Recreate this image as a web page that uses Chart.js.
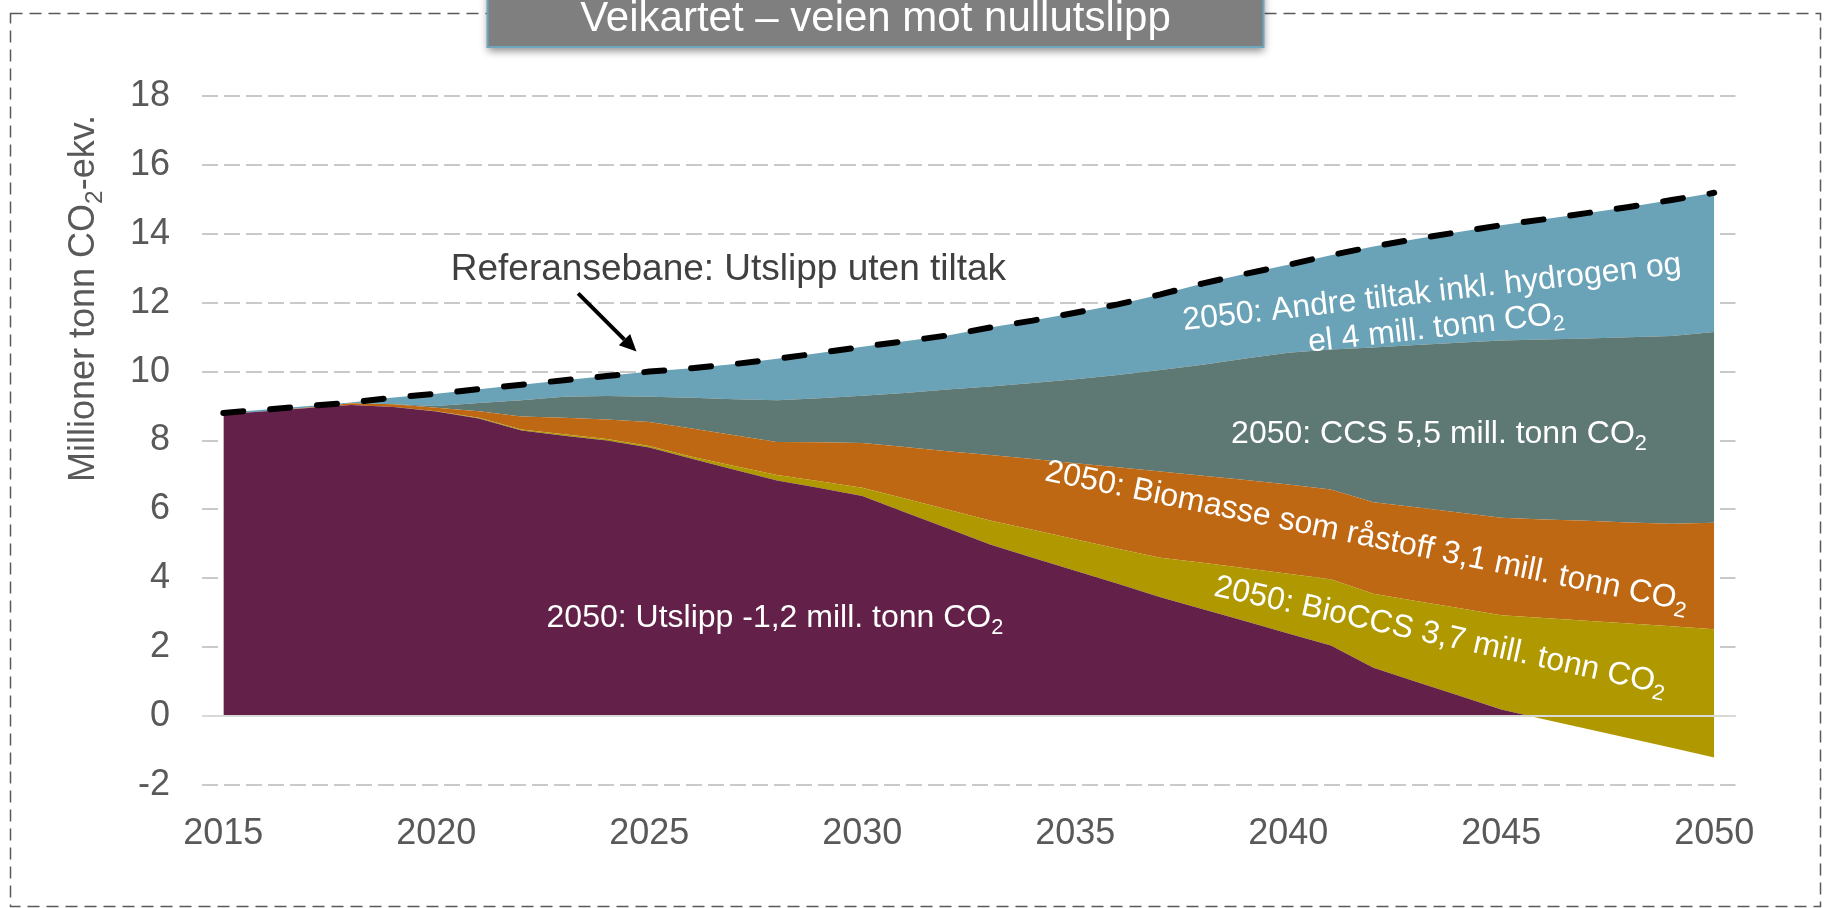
<!DOCTYPE html>
<html>
<head>
<meta charset="utf-8">
<title>Veikartet – veien mot nullutslipp</title>
<script src="https://cdn.jsdelivr.net/npm/chart.js@4.4.1/dist/chart.umd.min.js"></script>
<style>
  html, body { margin: 0; padding: 0; background: #fff; overflow: hidden; }
  #wrap { width: 1825px; height: 908px; }
</style>
</head>
<body>
<div id="wrap"><canvas id="chart" width="1825" height="908"></canvas></div>
<script>
// years on the category axis
const years = [2015, 2016, 2017, 2018, 2019, 2020, 2021, 2022, 2023, 2024, 2025, 2026,
  2027, 2028, 2029, 2030, 2031, 2032, 2033, 2034, 2035, 2036, 2037, 2038, 2039, 2040,
  2041, 2042, 2043, 2044, 2045, 2046, 2047, 2048, 2049, 2050];
const tickYears = [2015, 2020, 2025, 2030, 2035, 2040, 2045, 2050];

// stacked series, mill. tonn CO2-ekv. (bottom to top)
const utslipp = [8.76, 8.85, 8.94, 9.03, 8.97, 8.84, 8.64, 8.29, 8.14, 8.00, 7.80, 7.47,
  7.15, 6.84, 6.62, 6.39, 5.92, 5.45, 4.98, 4.60, 4.22, 3.84, 3.45, 3.10, 2.75, 2.40,
  2.05, 1.40, 1.00, 0.60, 0.19, -0.09, -0.37, -0.64, -0.92, -1.20];
const bioCCS = [0, 0, 0, 0, 0, 0.01, 0.02, 0.03, 0.04, 0.04, 0.04, 0.06,
  0.11, 0.16, 0.20, 0.24, 0.40, 0.55, 0.70, 0.81, 0.91, 1.02, 1.15, 1.35, 1.54, 1.73,
  1.92, 2.15, 2.34, 2.54, 2.74, 2.94, 3.14, 3.33, 3.53, 3.72];
const biomasse = [0, 0, 0.02, 0.05, 0.08, 0.10, 0.19, 0.38, 0.48, 0.57, 0.70, 0.82,
  0.89, 0.96, 1.13, 1.30, 1.49, 1.69, 1.90, 2.05, 2.21, 2.36, 2.50, 2.53, 2.56, 2.59,
  2.61, 2.66, 2.72, 2.77, 2.83, 2.86, 2.90, 2.93, 2.97, 3.09];
const ccs = [0, 0, 0, 0, 0, 0.05, 0.24, 0.47, 0.61, 0.68, 0.73, 0.89,
  1.05, 1.21, 1.28, 1.37, 1.57, 1.79, 1.99, 2.21, 2.44, 2.68, 2.95, 3.22, 3.53, 3.83,
  4.06, 4.49, 4.71, 4.93, 5.14, 5.22, 5.29, 5.38, 5.45, 5.54];
const andreTiltak = [0.04, 0.05, 0.04, 0.02, 0.20, 0.36, 0.40, 0.45, 0.48, 0.58, 0.73, 0.86,
  1.02, 1.20, 1.31, 1.42, 1.50, 1.57, 1.71, 1.81, 1.93, 2.05, 2.19, 2.36, 2.46, 2.55,
  2.74, 2.93, 3.08, 3.21, 3.35, 3.49, 3.64, 3.78, 3.95, 4.04];

// reference path (no measures), drawn as its own line
const referanse = [8.80, 8.90, 9.00, 9.10, 9.25, 9.36, 9.49, 9.62, 9.75, 9.87, 10.00, 10.10,
  10.22, 10.37, 10.54, 10.72, 10.88, 11.05, 11.28, 11.48, 11.71, 11.95, 12.24, 12.56, 12.84, 13.10,
  13.38, 13.63, 13.85, 14.05, 14.25, 14.42, 14.60, 14.78, 14.98, 15.19];

const FONT = "'Liberation Sans', Arial, Helvetica, sans-serif";
const colors = {
  utslipp: '#632048',
  bioCCS: '#AF9800',
  biomasse: '#BE6814',
  ccs: '#5E7874',
  andre: '#6AA3B7'
};

// labels placed in data coordinates (year, value) = centre of first baseline
const notes = [
  { lines: ['2050: Utslipp -1,2 mill. tonn CO₂'], year: 2027.95, value: 2.6, angle: 0, size: 32 },
  { lines: ['2050: CCS 5,5 mill. tonn CO₂'], year: 2043.54, value: 7.92, angle: 0, size: 32 },
  { lines: ['2050: Andre tiltak inkl. hydrogen og', 'el 4 mill. tonn CO₂'], year: 2043.4, value: 12.03, angle: -6.5, size: 32 },
  { lines: ['2050: Biomasse som råstoff 3,1 mill. tonn CO₂'], year: 2041.8, value: 4.95, angle: 11.5, size: 32 },
  { lines: ['2050: BioCCS 3,7 mill. tonn CO₂'], year: 2043.53, value: 2.07, angle: 12.3, size: 32 }
];
const refNote = { text: 'Referansebane: Utslipp uten tiltak', year: 2020.34, value: 12.66 };
const refArrow = { from: [2023.33, 12.27], to: [2024.70, 10.58] };

function drawSubText(ctx, text, x, y, size, align) {
  const parts = text.split('₂');
  const sub = size * 0.68;
  let w = 0;
  parts.forEach((p, i) => {
    ctx.font = size + 'px ' + FONT;
    w += ctx.measureText(p).width;
    if (i < parts.length - 1) {
      ctx.font = sub + 'px ' + FONT;
      w += ctx.measureText('2').width;
    }
  });
  let cx = align === 'center' ? x - w / 2 : (align === 'right' ? x - w : x);
  ctx.textAlign = 'left';
  ctx.textBaseline = 'alphabetic';
  parts.forEach((p, i) => {
    ctx.font = size + 'px ' + FONT;
    ctx.fillText(p, cx, y);
    cx += ctx.measureText(p).width;
    if (i < parts.length - 1) {
      ctx.font = sub + 'px ' + FONT;
      ctx.fillText('2', cx, y + size * 0.22);
      cx += ctx.measureText('2').width;
    }
  });
}

const decorations = {
  id: 'decorations',
  afterDatasetsDraw(chart) {
    // horizontal axis line sits on top of the areas at y = 0
    const { ctx, chartArea, scales: { y } } = chart;
    const y0 = y.getPixelForValue(0);
    ctx.save();
    ctx.strokeStyle = '#D9D9D9';
    ctx.lineWidth = 2;
    ctx.beginPath();
    ctx.moveTo(chartArea.left, y0);
    ctx.lineTo(chartArea.right, y0);
    ctx.stroke();
    ctx.restore();
  },
  afterDraw(chart) {
    const { ctx, scales: { x, y } } = chart;
    ctx.save();

    // white labels inside the areas
    ctx.fillStyle = '#FFFFFF';
    notes.forEach(n => {
      ctx.save();
      ctx.translate(x.getPixelForValue(n.year), y.getPixelForValue(n.value));
      ctx.rotate(n.angle * Math.PI / 180);
      n.lines.forEach((line, i) => drawSubText(ctx, line, 0, i * n.size * 1.12, n.size, 'center'));
      ctx.restore();
    });

    // reference label and arrow
    ctx.fillStyle = '#404040';
    drawSubText(ctx, refNote.text, x.getPixelForValue(refNote.year), y.getPixelForValue(refNote.value), 37, 'left');
    const ax1 = x.getPixelForValue(refArrow.from[0]), ay1 = y.getPixelForValue(refArrow.from[1]);
    const ax2 = x.getPixelForValue(refArrow.to[0]), ay2 = y.getPixelForValue(refArrow.to[1]);
    const ang = Math.atan2(ay2 - ay1, ax2 - ax1);
    const head = 17, hw = 8;
    const bx = ax2 - head * Math.cos(ang), by = ay2 - head * Math.sin(ang);
    ctx.strokeStyle = '#000';
    ctx.fillStyle = '#000';
    ctx.lineWidth = 4;
    ctx.beginPath();
    ctx.moveTo(ax1, ay1);
    ctx.lineTo(bx, by);
    ctx.stroke();
    ctx.beginPath();
    ctx.moveTo(ax2, ay2);
    ctx.lineTo(bx + hw * Math.sin(ang), by - hw * Math.cos(ang));
    ctx.lineTo(bx - hw * Math.sin(ang), by + hw * Math.cos(ang));
    ctx.closePath();
    ctx.fill();

    // y axis title
    ctx.save();
    ctx.translate(94, 482);
    ctx.rotate(-Math.PI / 2);
    ctx.fillStyle = '#595959';
    drawSubText(ctx, 'Millioner tonn CO₂-ekv.', 0, 0, 36, 'left');
    ctx.restore();

    // dashed frame
    ctx.strokeStyle = '#595959';
    ctx.lineWidth = 1.5;
    ctx.setLineDash([12, 7]);
    ctx.strokeRect(10.5, 13.5, 1810, 893);
    ctx.setLineDash([]);

    // title box
    ctx.save();
    ctx.shadowColor = 'rgba(0,0,0,0.45)';
    ctx.shadowBlur = 8;
    ctx.shadowOffsetY = 4;
    ctx.fillStyle = '#7F7F7F';
    ctx.fillRect(487.5, -12, 776, 59);
    ctx.restore();
    ctx.strokeStyle = '#6EA6BE';
    ctx.lineWidth = 2;
    ctx.strokeRect(487.5, -12, 776, 59);
    ctx.fillStyle = '#FFFFFF';
    ctx.font = '42px ' + FONT;
    ctx.textAlign = 'center';
    ctx.textBaseline = 'alphabetic';
    ctx.fillText('Veikartet – veien mot nullutslipp', 875.5, 31);

    ctx.restore();
  }
};

const area = (label, data, color, fill) => ({
  label, data,
  backgroundColor: color,
  borderWidth: 0,
  pointRadius: 0,
  fill
});

new Chart(document.getElementById('chart'), {
  type: 'line',
  data: {
    labels: years,
    datasets: [
      area('Utslipp', utslipp, colors.utslipp, { target: 'origin', above: colors.utslipp, below: 'rgba(0,0,0,0)' }),
      area('BioCCS', bioCCS, colors.bioCCS, '-1'),
      area('Biomasse som råstoff', biomasse, colors.biomasse, '-1'),
      area('CCS', ccs, colors.ccs, '-1'),
      area('Andre tiltak inkl. hydrogen og el', andreTiltak, colors.andre, '-1'),
      {
        label: 'Referansebane',
        data: referanse,
        stack: 'ref',
        order: -1,
        borderColor: '#000',
        borderWidth: 6,
        borderDash: [20, 27],
        borderCapStyle: 'round',
        pointRadius: 0,
        fill: false
      }
    ]
  },
  options: {
    responsive: false,
    animation: false,
    devicePixelRatio: 1,
    layout: { padding: { left: 0, top: 96, right: 89.5, bottom: 0 } },
    elements: { line: { tension: 0 } },
    plugins: {
      legend: { display: false },
      tooltip: { enabled: false }
    },
    scales: {
      x: {
        type: 'linear',
        min: 2014.5,
        max: 2050.5,
        grid: { display: false },
        border: { display: false },
        afterBuildTicks: s => { s.ticks = tickYears.map(v => ({ value: v })); },
        afterFit: s => { s.height = 123; },
        ticks: {
          callback: v => String(v),
          color: '#595959',
          font: { family: FONT, size: 36 },
          padding: 19,
          maxRotation: 0,
          autoSkip: false
        }
      },
      y: {
        stacked: 'single',
        min: -2,
        max: 18,
        afterFit: s => { s.width = 202; },
        grid: { color: '#C9C9C9', lineWidth: 2, drawTicks: false },
        border: { display: false, dash: [16, 6] },
        ticks: {
          stepSize: 2,
          color: '#595959',
          font: { family: FONT, size: 36 },
          padding: 32
        }
      }
    }
  },
  plugins: [decorations]
});
</script>
</body>
</html>
